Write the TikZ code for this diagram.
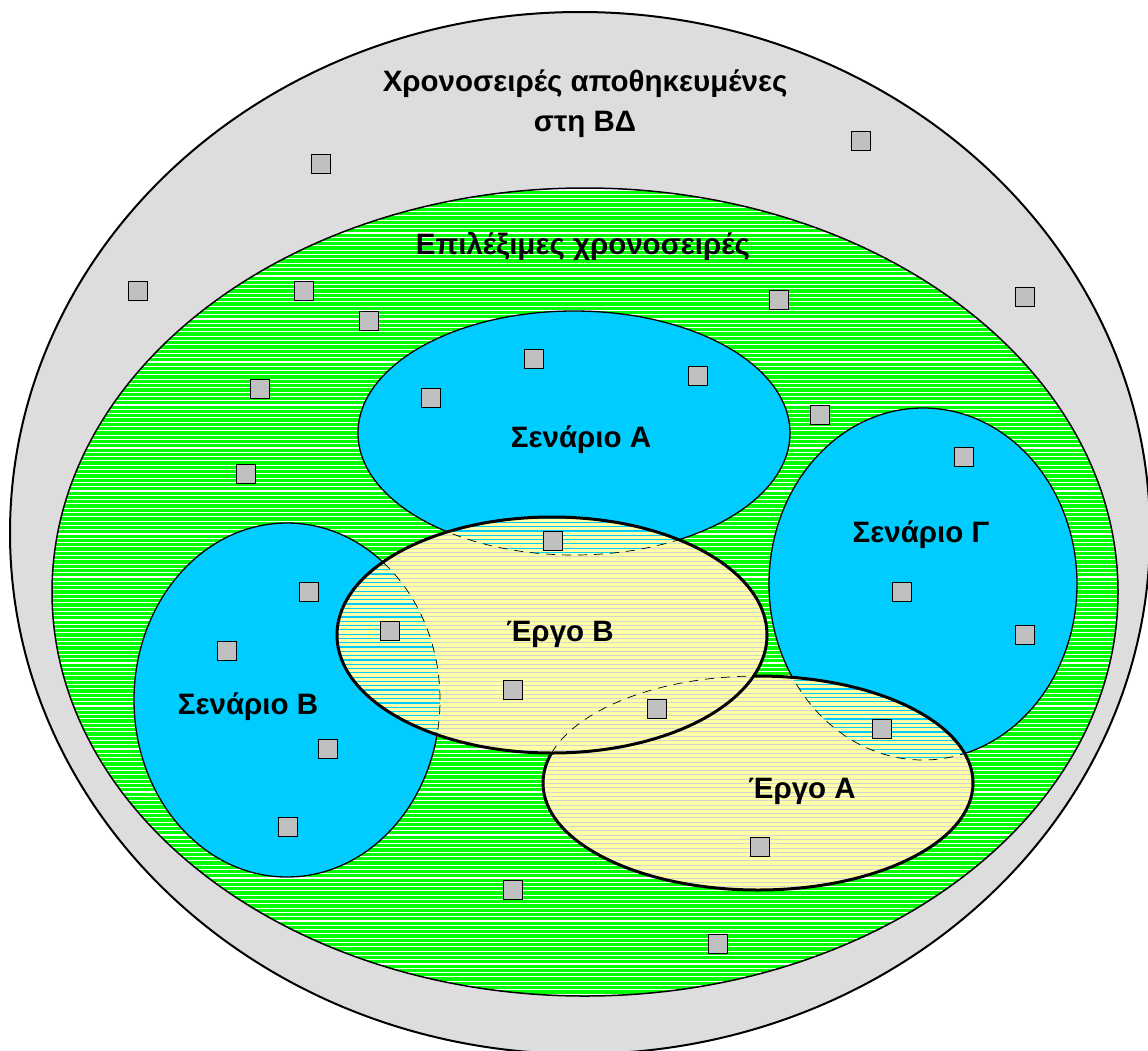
\documentclass[tikz,border=0pt]{standalone}
\usepackage{fontspec}
\setmainfont{Liberation Sans}
\definecolor{outergrey}{HTML}{DDDDDD}
\definecolor{selgreen}{HTML}{00FF00}
\definecolor{scencyan}{HTML}{00CCFF}
\definecolor{projyellow}{HTML}{FFFFA6}
\definecolor{stripegrey}{HTML}{D4D4D4}
\definecolor{sqgrey}{HTML}{C0C0C0}
\tikzset{
  sq/.style={draw=black, line width=1.6pt, fill=sqgrey, minimum width=19pt, minimum height=19pt, inner sep=0pt},
  lbl/.style={font=\fontsize{29.5}{40}\selectfont\bfseries, align=center},
  thinborder/.style={draw=black, line width=1.3pt},
  thickborder/.style={draw=black, line width=3pt},
  hidden/.style={draw=black, line width=0.7pt, dash pattern=on 9pt off 7pt},
}
\begin{document}
\begin{tikzpicture}[x=1pt,y=-1pt]
\useasboundingbox (0,0) rectangle (1148,1050);
\clip (0,0) rectangle (1148,1050);
% named centres
\coordinate (outerC) at (580,533);
\coordinate (greenC) at (585,592);
\coordinate (scAC) at (574,433);
\coordinate (scBC) at (287,700);
\coordinate (scGC) at (923,584);
\coordinate (erAC) at (758,783);
\coordinate (erBC) at (552,635);
\def\scA{(scAC) ellipse (216pt and 122pt)}
\def\scB{(scBC) ellipse (153pt and 177pt)}
\def\scG{(scGC) ellipse (154pt and 176pt)}
\def\erA{(erAC) ellipse (215pt and 107pt)}
\def\erB{(erBC) ellipse (215pt and 118pt)}
% outer
\path[fill=outergrey, draw=black, line width=2pt] (outerC) ellipse (570pt and 521pt);
% green
\fill[selgreen] (greenC) ellipse (533pt and 404pt);
\begin{scope}
  \clip (greenC) ellipse (533pt and 404pt);
  \foreach \y in {190,194.3,...,1000} \draw[white, line width=1.1pt] (50,\y) -- (1120,\y);
\end{scope}
\draw[black, line width=1.5pt] (greenC) ellipse (533pt and 404pt);
% scenarios
\path[fill=scencyan, thinborder] \scA;
\path[fill=scencyan, thinborder] \scB;
\path[fill=scencyan, thinborder] \scG;
% Ergo A
\fill[projyellow] \erA;
\begin{scope}
  \clip \erA;
  \foreach \y in {676,680.3,...,892} \draw[stripegrey, line width=1pt] (540,\y) -- (975,\y);
  \begin{scope}
    \clip \scG;
    \foreach \y in {676,680.3,...,892} \draw[scencyan, line width=1.2pt] (540,\y) -- (975,\y);
  \end{scope}
  \draw[hidden] \scG;
\end{scope}
\draw[thickborder] \erA;
% Ergo B
\fill[projyellow] \erB;
\begin{scope}
  \clip \erB;
  \foreach \y in {518,522.3,...,755} \draw[stripegrey, line width=1pt] (335,\y) -- (770,\y);
  \begin{scope}
    \clip \scA;
    \foreach \y in {518,522.3,...,755} \draw[scencyan, line width=1.2pt] (335,\y) -- (770,\y);
  \end{scope}
  \begin{scope}
    \clip \scB;
    \foreach \y in {518,522.3,...,755} \draw[scencyan, line width=1.2pt] (335,\y) -- (770,\y);
  \end{scope}
  \draw[hidden] \scA;
  \draw[hidden] \scB;
  \draw[hidden] \erA;
\end{scope}
\draw[thickborder] \erB;
% labels
\node[lbl] (tOuter) at (585,104) {Χρονοσειρές αποθηκευμένες\\στη ΒΔ};
\node[lbl] (tGreen) at (583,246) {Επιλέξιμες χρονοσειρές};
\node[lbl] (tScA) at (581,440) {Σενάριο Α};
\node[lbl] (tScG) at (921,535) {Σενάριο Γ};
\node[lbl] (tScB) at (248,707) {Σενάριο Β};
\node[lbl] (tErB) at (560,634) {Έργο Β};
\node[lbl] (tErA) at (802,791) {Έργο Α};
% squares
\foreach \n/\px/\py in {1/321/164, 2/861/141, 3/138/291, 4/304/291, 5/369/321, 6/779/300, 7/1025/297,
  8/534/359, 9/698/376, 10/431/398, 11/260/389, 12/820/415, 13/246/474, 14/964/457, 15/553/541,
  16/309/592, 17/902/592, 18/227/651, 19/390/631, 20/1025/635, 21/513/690, 22/657/709, 23/328/749,
  24/882/729, 25/288/827, 26/760/847, 27/513/890, 28/718/944}
  \node[sq] (s\n) at (\px,\py) {};
\end{tikzpicture}
\end{document}
